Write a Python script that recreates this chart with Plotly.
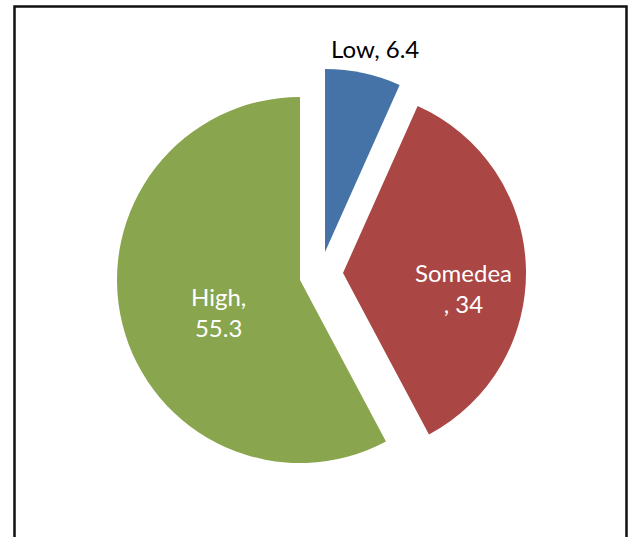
import plotly.graph_objects as go

# ---- data ----
labels = ["Low", "Somedea", "High"]
values = [6.4, 34, 55.3]
colors = ["#4572A7", "#AA4643", "#89A54E"]

W, H = 632, 537
R = 183
# slice centres (pixels from top-left), exploded offsets
centres = [(325, 252), (343, 273), (300, 280)]

fig = go.Figure()
for i, (cx, cy) in enumerate(centres):
    cols = ["rgba(0,0,0,0)"] * len(values)
    cols[i] = colors[i]
    py = H - cy
    fig.add_trace(go.Pie(
        labels=labels, values=values, sort=False, direction="clockwise",
        rotation=0, textinfo="none", hoverinfo="skip",
        marker=dict(colors=cols, line=dict(width=0)),
        domain=dict(x=[(cx - R) / W, (cx + R) / W], y=[(py - R) / H, (py + R) / H]),
        showlegend=False,
    ))

font_fam = "Lato, Open Sans, sans-serif"
label_pos = [(375.5, 48, "#000000", False), (463, 288, "#FFFFFF", True), (218, 312, "#FFFFFF", True)]
for lab, val, (x, y, c, brk) in zip(labels, values, label_pos):
    txt = f"{lab}<br>, {val:g}" if (brk and lab == "Somedea") else (f"{lab},<br>{val:g}" if brk else f"{lab}, {val:g}")
    fig.add_annotation(x=x / W, y=1 - y / H, xref="paper", yref="paper",
                       text=txt, showarrow=False, xanchor="center", yanchor="middle",
                       font=dict(family=font_fam, size=24, color=c))

fig.add_shape(type="rect", xref="paper", yref="paper",
              x0=14.5 / W, x1=626.5 / W, y0=-0.05, y1=1 - 6.5 / H,
              line=dict(color="#111111", width=2.5))

fig.update_layout(width=W, height=H, margin=dict(l=0, r=0, t=0, b=0),
                  paper_bgcolor="white", plot_bgcolor="white")
fig.write_html("out.html", config={"displayModeBar": False},
               post_script="document.body.style.margin='0';document.body.style.overflow='hidden';")
